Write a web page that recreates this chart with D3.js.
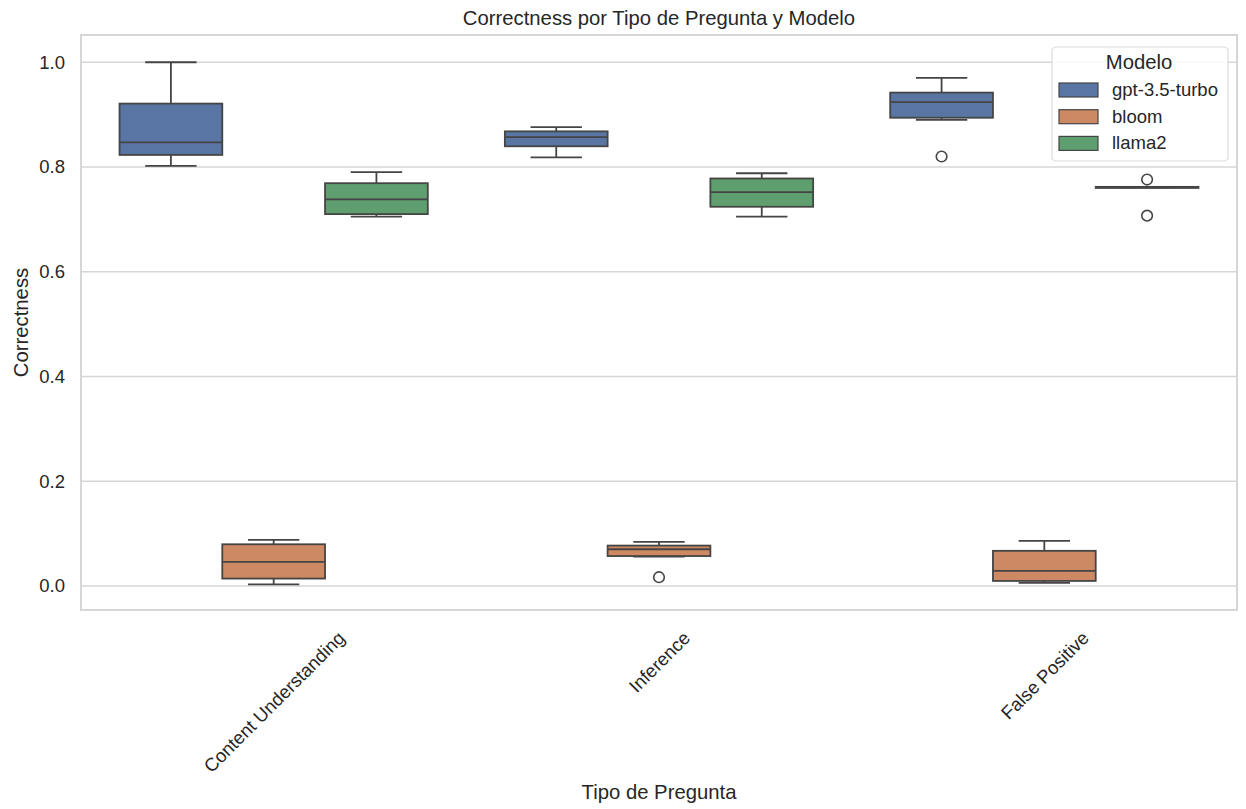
<!DOCTYPE html>
<html>
<head>
<meta charset="utf-8">
<script src="https://cdn.jsdelivr.net/npm/d3@7"></script>
<style>
  body { margin: 0; background: #fff; }
  text { font-family: "Liberation Sans", Arial, sans-serif; fill: #262626; }
</style>
</head>
<body>
<div id="chart"></div>
<script>
// data
var categories = ["Content Understanding", "Inference", "False Positive"];
var models = ["gpt-3.5-turbo", "bloom", "llama2"];
var colors = ["#5875a4", "#cc8963", "#5f9e6e"];
var yTicks = [0.0, 0.2, 0.4, 0.6, 0.8, 1.0];

// box stats per category: [whiskerLow, q1, median, q3, whiskerHigh]
var gptStats = [
  [0.802, 0.823, 0.847, 0.921, 1.000],
  [0.8185, 0.8395, 0.857, 0.868, 0.876],
  [0.890, 0.894, 0.924, 0.942, 0.970]
];
var bloomStats = [
  [0.003, 0.014, 0.046, 0.0795, 0.088],
  [0.056, 0.057, 0.070, 0.077, 0.084],
  [0.0057, 0.0095, 0.0286, 0.067, 0.086]
];
var llamaStats = [
  [0.705, 0.710, 0.738, 0.769, 0.790],
  [0.705, 0.724, 0.752, 0.778, 0.788],
  [0.761, 0.760, 0.761, 0.762, 0.762]
];
var gptOutliers = [[], [], [0.820]];
var bloomOutliers = [[], [0.0166], []];
var llamaOutliers = [[], [], [0.776, 0.707]];

var allStats = [gptStats, bloomStats, llamaStats];
var allOutliers = [gptOutliers, bloomOutliers, llamaOutliers];

var svgWidth = 1246;
var svgHeight = 809;
var margin = { top: 35, right: 9, bottom: 199, left: 81 };
var width = svgWidth - margin.left - margin.right;
var height = svgHeight - margin.top - margin.bottom;

var svg = d3.select("#chart")
  .append("svg")
  .attr("width", svgWidth)
  .attr("height", svgHeight);

var chartGroup = svg.append("g")
  .attr("transform", `translate(${margin.left}, ${margin.top})`);

var xScale = d3.scaleLinear()
  .domain([-0.5, categories.length - 0.5])
  .range([0, width]);

var yScale = d3.scaleLinear()
  .domain([-0.046, 1.052])
  .range([height, 0]);

var hueWidth = 0.8 / models.length;
var boxW = xScale(hueWidth) - xScale(0);

// grid
chartGroup.append("g")
  .selectAll("line")
  .data(yTicks)
  .enter()
  .append("line")
  .attr("x1", 0)
  .attr("x2", width)
  .attr("y1", d => yScale(d))
  .attr("y2", d => yScale(d))
  .attr("stroke", "#d6d6d6")
  .attr("stroke-width", 1.5);

// y axis ticks
var leftAxis = d3.axisLeft(yScale)
  .tickValues(yTicks)
  .tickFormat(d3.format(".1f"))
  .tickSize(0)
  .tickPadding(16);
var yAxisG = chartGroup.append("g").call(leftAxis);
yAxisG.select(".domain").remove();
yAxisG.selectAll("text")
  .style("font-size", "18.5px")
  .attr("fill", "#262626");

// x axis ticks, rotated 45 and centred on the tick like matplotlib
var bottomAxis = d3.axisBottom(xScale)
  .tickValues(d3.range(categories.length))
  .tickFormat(i => categories[i])
  .tickSize(0);
var xAxisG = chartGroup.append("g")
  .attr("transform", `translate(0, ${height})`)
  .call(bottomAxis);
xAxisG.select(".domain").remove();
xAxisG.selectAll("text")
  .style("font-size", "18.5px")
  .attr("fill", "#262626")
  .attr("text-anchor", "middle")
  .attr("dy", null)
  .attr("y", 0)
  .attr("dominant-baseline", "central")
  .attr("transform", function () {
    var w = this.getComputedTextLength();
    var h = 18.5;
    var halfH = (w + h) * Math.SQRT1_2 / 2;
    return `translate(0, ${18 + halfH}) rotate(-45)`;
  });

// boxes
models.forEach(function (m, mi) {
  var off = -0.4 + hueWidth * (mi + 0.5);
  var stats = allStats[mi];
  var g = chartGroup.append("g");
  var groups = g.selectAll("g")
    .data(stats)
    .enter()
    .append("g")
    .attr("transform", (d, i) => `translate(${xScale(i + off)}, 0)`);

  groups.append("line")
    .attr("x1", 0).attr("x2", 0)
    .attr("y1", d => yScale(d[3]))
    .attr("y2", d => yScale(d[4]))
    .attr("stroke", "#454545").attr("stroke-width", 1.8);
  groups.append("line")
    .attr("x1", 0).attr("x2", 0)
    .attr("y1", d => yScale(d[1]))
    .attr("y2", d => yScale(d[0]))
    .attr("stroke", "#454545").attr("stroke-width", 1.8);
  groups.append("line")
    .attr("x1", -boxW / 4).attr("x2", boxW / 4)
    .attr("y1", d => yScale(d[4]))
    .attr("y2", d => yScale(d[4]))
    .attr("stroke", "#454545").attr("stroke-width", 1.8);
  groups.append("line")
    .attr("x1", -boxW / 4).attr("x2", boxW / 4)
    .attr("y1", d => yScale(d[0]))
    .attr("y2", d => yScale(d[0]))
    .attr("stroke", "#454545").attr("stroke-width", 1.8);
  groups.append("rect")
    .attr("x", -boxW / 2)
    .attr("width", boxW)
    .attr("y", d => yScale(d[3]))
    .attr("height", d => Math.max(0.5, yScale(d[1]) - yScale(d[3])))
    .attr("fill", colors[mi])
    .attr("stroke", "#454545")
    .attr("stroke-width", 1.8);
  groups.append("line")
    .attr("x1", -boxW / 2).attr("x2", boxW / 2)
    .attr("y1", d => yScale(d[2]))
    .attr("y2", d => yScale(d[2]))
    .attr("stroke", "#454545").attr("stroke-width", 1.8);

  // outliers
  allOutliers[mi].forEach(function (vals, ci) {
    g.selectAll(null)
      .data(vals)
      .enter()
      .append("circle")
      .attr("cx", xScale(ci + off))
      .attr("cy", d => yScale(d))
      .attr("r", 5.3)
      .attr("fill", "none")
      .attr("stroke", "#454545")
      .attr("stroke-width", 1.6);
  });
});

// frame
chartGroup.append("rect")
  .attr("width", width)
  .attr("height", height)
  .attr("fill", "none")
  .attr("stroke", "#d6d6d6")
  .attr("stroke-width", 2);

// title and axis labels
svg.append("text")
  .attr("x", margin.left + width / 2)
  .attr("y", 25)
  .attr("text-anchor", "middle")
  .style("font-size", "20.3px")
  .text("Correctness por Tipo de Pregunta y Modelo");

svg.append("text")
  .attr("x", margin.left + width / 2)
  .attr("y", 799)
  .attr("text-anchor", "middle")
  .style("font-size", "20.3px")
  .text("Tipo de Pregunta");

svg.append("text")
  .attr("transform", `translate(28, ${margin.top + height / 2}) rotate(-90)`)
  .attr("text-anchor", "middle")
  .style("font-size", "20.3px")
  .text("Correctness");

// legend
var legend = svg.append("g").attr("transform", "translate(1052, 47)");
legend.append("rect")
  .attr("width", 176)
  .attr("height", 114)
  .attr("rx", 4)
  .attr("fill", "#fff")
  .attr("fill-opacity", 0.85)
  .attr("stroke", "#dcdcdc")
  .attr("stroke-width", 1.2);
legend.append("text")
  .attr("x", 87)
  .attr("y", 22)
  .attr("text-anchor", "middle")
  .style("font-size", "20.3px")
  .text("Modelo");
var items = legend.selectAll("g.item")
  .data(models)
  .enter()
  .append("g")
  .attr("class", "item")
  .attr("transform", (d, i) => `translate(7, ${36 + i * 26.7})`);
items.append("rect")
  .attr("width", 39)
  .attr("height", 14)
  .attr("fill", (d, i) => colors[i])
  .attr("stroke", "#454545")
  .attr("stroke-width", 1.2);
items.append("text")
  .attr("x", 53)
  .attr("y", 13)
  .style("font-size", "18.5px")
  .text(d => d);
</script>
</body>
</html>
